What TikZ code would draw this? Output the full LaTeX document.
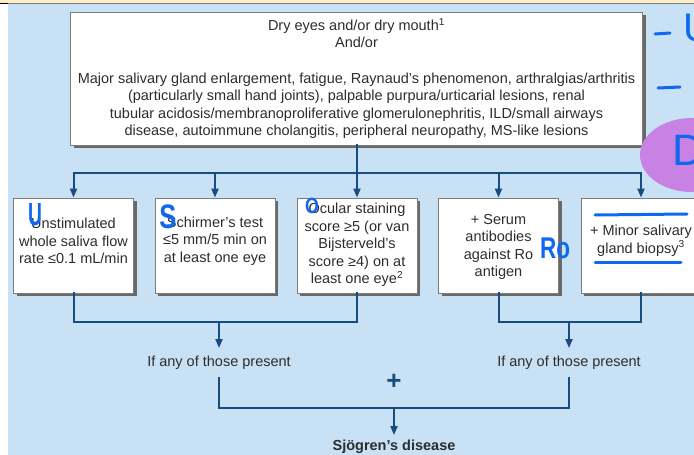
\documentclass[tikz,border=0pt]{standalone}
\usepackage{fontspec}
\setmainfont{Liberation Sans}
\usetikzlibrary{arrows.meta,shadows}

\definecolor{bgblue}{RGB}{200,225,244}
\definecolor{lineblue}{RGB}{24,76,128}
\definecolor{txtgray}{RGB}{45,45,45}
\definecolor{boxgray}{RGB}{125,125,125}
\definecolor{shadowgray}{RGB}{105,105,105}
\definecolor{cream}{RGB}{253,240,200}
\definecolor{penblue}{RGB}{15,105,240}
\definecolor{blobpurple}{RGB}{200,130,228}

\begin{document}
\begin{tikzpicture}[x=1pt,y=-1pt,
    every node/.style={text=txtgray,font=\fontsize{14.5}{17.6}\selectfont},
    box/.style={draw=boxgray,line width=0.9pt,fill=white,
      drop shadow={opacity=1,fill=shadowgray,shadow xshift=3pt,shadow yshift=-3pt}},
    smallbox/.style={box,minimum width=120pt,minimum height=95pt,inner sep=0pt},
    boxtext/.style={align=center,inner sep=0pt},
    conn/.style={draw=lineblue,line width=2pt,line cap=rect},
    arr/.style={conn,-{Triangle[width=7pt,length=9pt]}},
    lbl/.style={inner sep=8pt},
    pen/.style={text=penblue,inner sep=0pt},
    penline/.style={draw=penblue,line width=3pt,line cap=round}]

  \useasboundingbox (0,0) rectangle (694,455);
  \clip (0,0) rectangle (694,455);
  \fill[white] (0,0) rectangle (694,455);
  \fill[cream] (0,0) rectangle (694,3);
  \fill[bgblue] (8,4) rectangle (694,455);
  \draw[gray,line width=0.6pt] (8,3.5) -- (694,3.5);
  \draw[black,line width=1.2pt] (0,3.6) -- (8,3.6);

  \node[box,minimum width=572pt,minimum height=133pt,align=center] (top) at (356.5,78.5)
    {Dry eyes and/or dry mouth\textsuperscript{1}\\And/or\\[17.6pt]
     Major salivary gland enlargement, fatigue, Raynaud’s phenomenon, arthralgias/arthritis\\
     (particularly small hand joints), palpable purpura/urticarial lesions, renal\\
     tubular acidosis/membranoproliferative glomerulonephritis, ILD/small airways\\
     disease, autoimmune cholangitis, peripheral neuropathy, MS-like lesions};

  \node[smallbox] (b1) at (73.5,245.5) {};
  \node[smallbox] (b2) at (215,245.5) {};
  \node[smallbox] (b3) at (357,245.5) {};
  \node[smallbox] (b4) at (498.5,245.5) {};
  \node[smallbox] (b5) at (641,245.5) {};

  \node[boxtext] (t1) at (73.5,241) {Unstimulated\\whole saliva flow\\rate ≤0.1 mL/min};
  \node[boxtext] (t2) at (215,241) {Schirmer’s test\\≤5 mm/5 min on\\at least one eye};
  \node[boxtext] (t3) at (357,245) {Ocular staining\\score ≥5 (or van\\Bijsterveld’s\\score ≥4) on at\\least one eye\textsuperscript{2}};
  \node[boxtext] (t4) at (498.5,247) {+ Serum\\antibodies\\against Ro\\antigen};
  \node[boxtext] (t5) at (641,240.5) {+ Minor salivary\\gland biopsy\textsuperscript{3}};

  \coordinate (bus) at (357,173);
  \draw[conn] (top.south) -- (top.south |- bus);
  \draw[conn] (b1.north |- bus) -- (b5.north |- bus);
  \foreach \b in {b1,b2,b3,b4,b5}
    \draw[arr] (\b.north |- bus) -- (\b.north);

  \node[lbl] (any1) at (219,363) {If any of those present};
  \node[lbl] (any2) at (569,363) {If any of those present};
  \coordinate (jl) at (219,322);
  \coordinate (jr) at (569,322);
  \draw[conn] (b1.south) |- (jl) -| (b3.south);
  \draw[arr] (jl) -- (any1.north);
  \draw[conn] (b4.south) |- (jr) -| (b5.south);
  \draw[arr] (jr) -- (any2.north);

  \node[text=lineblue,font=\fontsize{26}{26}\selectfont\bfseries] (plus) at (394,382) {+};
  \node[inner sep=5pt,font=\fontsize{14.5}{17.6}\selectfont\bfseries] (sjo) at (394,447) {Sjögren’s disease};
  \coordinate (jd) at (394,408);
  \draw[conn] (any1.south) |- (jd) -| (any2.south);
  \draw[arr] (jd) -- (sjo.north);

  \fill[blobpurple] (692,155) ellipse (52pt and 37pt);
  \node[pen,font=\fontsize{32}{32}\selectfont\bfseries,xscale=0.6] (penU) at (35,215) {U};
  \node[pen,font=\fontsize{34}{34}\selectfont\bfseries,xscale=0.75] (penS) at (168,217) {S};
  \node[pen,font=\fontsize{22}{22}\selectfont\bfseries,xscale=0.8] (penO) at (312,206) {O};
  \node[pen,font=\fontsize{30}{30}\selectfont\bfseries,xscale=0.75] (penRo) at (555,248) {Ro};
  \node[pen,font=\fontsize{44}{44}\selectfont] (penD) at (688,150) {D};
  \node[pen,font=\fontsize{40}{40}\selectfont,anchor=west] (penU2) at (683,28) {U};
  \draw[penline] (655,34) -- (670,33);
  \draw[penline] (658,88) -- (680,87);
  \draw[penline] (595,215) -- (687,214);
  \draw[penline] (595,262) -- (681,262);
\end{tikzpicture}
\end{document}
